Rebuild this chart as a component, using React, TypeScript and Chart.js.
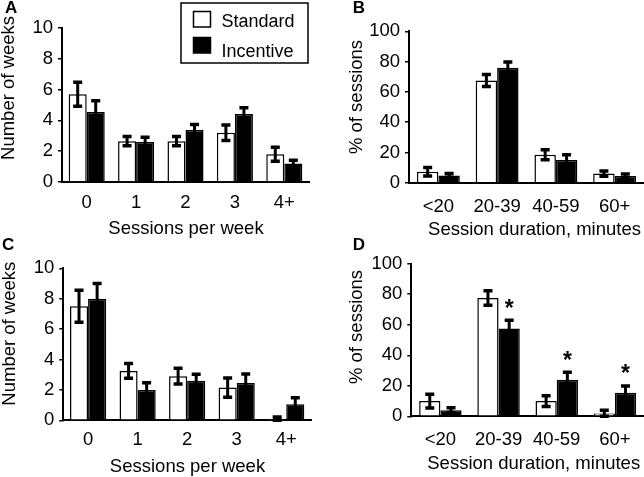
import React, { useEffect, useRef } from 'react';
import { Chart, registerables } from 'chart.js';

Chart.register(...registerables);

// ---------- data ----------
const freqCategories = ['0', '1', '2', '3', '4+'];
const durCategories = ['<20', '20-39', '40-59', '60+'];
const seriesNames = ['Standard', 'Incentive'];

const aStandard = [5.7, 2.65, 2.65, 3.2, 1.8];
const aStandardErr = [0.78, 0.3, 0.3, 0.5, 0.45];
const aIncentive = [4.55, 2.6, 3.38, 4.42, 1.2];
const aIncentiveErr = [0.73, 0.3, 0.35, 0.4, 0.22];

const bStandard = [7.2, 67.5, 18.5, 6];
const bStandardErr = [2.8, 4, 3.3, 1.8];
const bIncentive = [4.8, 76, 15, 4.5];
const bIncentiveErr = [1.3, 3.8, 3.5, 1.2];

const cStandard = [7.5, 3.25, 2.9, 2.15, 0.1];
const cStandardErr = [1.05, 0.48, 0.52, 0.63, 0.12];
const cIncentive = [8.0, 2.0, 2.6, 2.45, 1.05];
const cIncentiveErr = [1.0, 0.47, 0.43, 0.6, 0.44];

const dStandard = [10, 77.5, 10, 1.8];
const dStandardErr = [4.5, 4.8, 3.5, 2.2];
const dIncentive = [4, 57.5, 24, 15.5];
const dIncentiveErr = [1.6, 5.5, 4.8, 4.4];
const dSignificant = [false, true, true, true];

const freqTicks = [0, 2, 4, 6, 8, 10];
const pctTicks = [0, 20, 40, 60, 80, 100];

const FONT = '"Liberation Sans", Arial, Helvetica, sans-serif';

// ---------- plugins ----------
const errorBarPlugin = {
  id: 'errorBars',
  afterDatasetsDraw(chart: any) {
    const ctx = chart.ctx;
    const yScale = chart.scales.y;
    chart.data.datasets.forEach((ds: any, i: number) => {
      const meta = chart.getDatasetMeta(i);
      meta.data.forEach((el: any, j: number) => {
        const v = ds.data[j];
        const e = ds.errors ? ds.errors[j] : 0;
        const x = el.x;
        const top = yScale.getPixelForValue(v + e);
        const bot = yScale.getPixelForValue(Math.max(v - e, 0));
        ctx.save();
        ctx.strokeStyle = '#000';
        ctx.lineWidth = 3;
        ctx.beginPath();
        ctx.moveTo(x, top);
        ctx.lineTo(x, bot);
        ctx.stroke();
        ctx.lineWidth = 3.5;
        ctx.beginPath();
        ctx.moveTo(x - 4.5, top);
        ctx.lineTo(x + 4.5, top);
        ctx.moveTo(x - 4.5, bot);
        ctx.lineTo(x + 4.5, bot);
        ctx.stroke();
        if (ds.significant && ds.significant[j]) {
          const size = 23;
          ctx.fillStyle = '#000';
          ctx.font = `bold ${size}px ${FONT}`;
          ctx.textAlign = 'center';
          ctx.textBaseline = 'alphabetic';
          const yc = top - 18;
          ctx.fillText('*', x, yc + 0.58 * size);
        }
        ctx.restore();
      });
    });
  },
};

const decorPlugin = {
  id: 'decor',
  afterDraw(chart: any, _args: any, opts: any) {
    const ctx = chart.ctx;
    ctx.save();
    ctx.fillStyle = '#000';
    if (opts.letter) {
      ctx.font = `bold 17px ${FONT}`;
      ctx.textAlign = 'left';
      ctx.textBaseline = 'alphabetic';
      ctx.fillText(opts.letter.text, opts.letter.x, opts.letter.y);
    }
    if (opts.xTitle) {
      ctx.font = `18.5px ${FONT}`;
      ctx.textAlign = 'center';
      ctx.textBaseline = 'middle';
      ctx.fillText(opts.xTitle.text, opts.xTitle.x, opts.xTitle.y);
    }
    if (opts.yTitle) {
      ctx.save();
      ctx.translate(opts.yTitle.x, opts.yTitle.y);
      ctx.rotate(-Math.PI / 2);
      ctx.font = `18.5px ${FONT}`;
      ctx.textAlign = 'center';
      ctx.textBaseline = 'middle';
      ctx.fillText(opts.yTitle.text, 0, 0);
      ctx.restore();
    }
    if (opts.legend) {
      const L = opts.legend;
      ctx.strokeStyle = '#000';
      ctx.lineWidth = 1.5;
      ctx.strokeRect(L.x, L.y, L.w, L.h);
      const names = chart.data.datasets.map((d: any) => d.label);
      names.forEach((name: string, i: number) => {
        const ds = chart.data.datasets[i];
        const sy = L.y + 8.5 + i * 26;
        ctx.fillStyle = ds.backgroundColor;
        ctx.fillRect(L.x + 12.5, sy, 17, 15.5);
        ctx.strokeStyle = '#000';
        ctx.lineWidth = 1.5;
        ctx.strokeRect(L.x + 12.5, sy, 17, 15.5);
        ctx.fillStyle = '#000';
        ctx.font = `18px ${FONT}`;
        ctx.textAlign = 'left';
        ctx.textBaseline = 'alphabetic';
        ctx.fillText(name, L.x + 40.5, L.y + 24 + i * 30);
      });
    }
    ctx.restore();
  },
};

// ---------- panel configs ----------
type PanelCfg = {
  x: number; y: number; w: number; h: number;
  area: { left: number; top: number; right: number; bottom: number };
  categories: string[];
  std: number[]; stdErr: number[];
  inc: number[]; incErr: number[];
  sig?: boolean[];
  ticks: number[];
  xPad: number;
  decor: any;
};

const panels: PanelCfg[] = [
  {
    x: 0, y: 0, w: 322, h: 238,
    area: { left: 62, top: 28, right: 309, bottom: 182 },
    categories: freqCategories,
    std: aStandard, stdErr: aStandardErr, inc: aIncentive, incErr: aIncentiveErr,
    ticks: freqTicks, xPad: 10,
    decor: {
      letter: { text: 'A', x: 5, y: 13 },
      xTitle: { text: 'Sessions per week', x: 186, y: 228.5 },
      yTitle: { text: 'Number of weeks', x: 8.5, y: 88 },
      legend: { x: 181, y: 3, w: 127, h: 60 },
    },
  },
  {
    x: 322, y: 0, w: 322, h: 238,
    area: { left: 87, top: 31.3, right: 322, bottom: 182.7 },
    categories: durCategories,
    std: bStandard, stdErr: bStandardErr, inc: bIncentive, incErr: bIncentiveErr,
    ticks: pctTicks, xPad: 13,
    decor: {
      letter: { text: 'B', x: 30.7, y: 13 },
      xTitle: { text: 'Session duration, minutes', x: 212.5, y: 230 },
      yTitle: { text: '% of sessions', x: 34.7, y: 97 },
    },
  },
  {
    x: 0, y: 238, w: 322, h: 239,
    area: { left: 63.3, top: 30.3, right: 311, bottom: 182.3 },
    categories: freqCategories,
    std: cStandard, stdErr: cStandardErr, inc: cIncentive, incErr: cIncentiveErr,
    ticks: freqTicks, xPad: 9,
    decor: {
      letter: { text: 'C', x: 2, y: 12 },
      xTitle: { text: 'Sessions per week', x: 187.5, y: 229 },
      yTitle: { text: 'Number of weeks', x: 10, y: 95.7 },
    },
  },
  {
    x: 322, y: 238, w: 322, h: 239,
    area: { left: 89.3, top: 25.7, right: 322, bottom: 178.3 },
    categories: durCategories,
    std: dStandard, stdErr: dStandardErr, inc: dIncentive, incErr: dIncentiveErr,
    sig: dSignificant,
    ticks: pctTicks, xPad: 13,
    decor: {
      letter: { text: 'D', x: 30.7, y: 12 },
      xTitle: { text: 'Session duration, minutes', x: 211.7, y: 225.7 },
      yTitle: { text: '% of sessions', x: 34.7, y: 89 },
    },
  },
];

function buildConfig(p: PanelCfg): any {
  const maxV = p.ticks[p.ticks.length - 1];
  const step = p.ticks[1] - p.ticks[0];
  return {
    type: 'bar',
    data: {
      labels: p.categories,
      datasets: [
        {
          label: seriesNames[0],
          data: p.std,
          errors: p.stdErr,
          backgroundColor: '#ffffff',
          borderColor: '#000000',
          borderWidth: 1.5,
        },
        {
          label: seriesNames[1],
          data: p.inc,
          errors: p.incErr,
          significant: p.sig,
          backgroundColor: '#000000',
          borderColor: '#000000',
          borderWidth: 1.5,
        },
      ],
    },
    options: {
      responsive: false,
      animation: false,
      devicePixelRatio: 1,
      categoryPercentage: 0.73,
      barPercentage: 1,
      layout: {
        padding: { left: 0, top: p.area.top, right: p.w - p.area.right, bottom: 0 },
      },
      plugins: {
        legend: { display: false },
        tooltip: { enabled: false },
        decor: p.decor,
      },
      scales: {
        x: {
          type: 'category',
          offset: true,
          grid: { display: false, drawTicks: false },
          border: { display: true, color: '#000', width: 2 },
          ticks: {
            color: '#000',
            padding: p.xPad,
            maxRotation: 0,
            autoSkip: false,
            font: { family: FONT, size: 18.5 },
          },
          afterFit(scale: any) {
            scale.height = p.h - p.area.bottom;
          },
        },
        y: {
          min: 0,
          max: maxV,
          grid: {
            display: true,
            drawOnChartArea: false,
            drawTicks: true,
            tickLength: 4,
            color: '#000',
            lineWidth: 1.5,
          },
          border: { display: true, color: '#000', width: 2 },
          ticks: {
            color: '#000',
            stepSize: step,
            padding: 5,
            font: { family: FONT, size: 18.5 },
          },
          afterFit(scale: any) {
            scale.width = p.area.left;
          },
        },
      },
    },
    plugins: [errorBarPlugin, decorPlugin],
  };
}

function Panel({ cfg }: { cfg: PanelCfg }) {
  const ref = useRef<HTMLCanvasElement>(null);
  useEffect(() => {
    if (!ref.current) return;
    const chart = new Chart(ref.current, buildConfig(cfg));
    return () => chart.destroy();
  }, [cfg]);
  return (
    <canvas
      ref={ref}
      width={cfg.w}
      height={cfg.h}
      style={{ position: 'absolute', left: cfg.x, top: cfg.y, width: cfg.w, height: cfg.h }}
    />
  );
}

export default function App() {
  return (
    <div
      style={{
        position: 'absolute',
        left: 0,
        top: 0,
        width: 644,
        height: 477,
        background: '#ffffff',
        overflow: 'hidden',
      }}
    >
      {panels.map((p, i) => (
        <Panel key={i} cfg={p} />
      ))}
    </div>
  );
}
